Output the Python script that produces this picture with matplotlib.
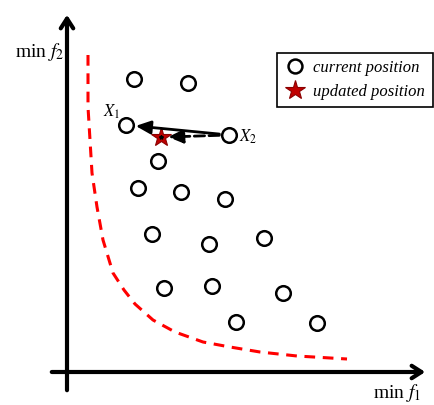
import matplotlib.pyplot as plt
from matplotlib.lines import Line2D

plt.rcParams['font.family'] = ['Liberation Serif', 'DejaVu Serif']
plt.rcParams['mathtext.fontset'] = 'stix'

# current positions (f1, f2)
pos_f1 = [67, 121, 59, 162, 91, 71, 114, 158, 85, 142, 197, 97, 145, 216, 169, 250]
pos_f2 = [293, 289, 247, 237, 211, 184, 180, 173, 138, 128, 134, 84, 86, 79, 50, 49]

# updated position
star_f1 = [94]
star_f2 = [235]

# pareto-like front
front_f1 = [21, 21, 23, 25, 30, 36, 46, 57, 68, 86, 108, 136, 163, 193, 230, 280]
front_f2 = [317, 265, 232, 199, 165, 132, 99, 82, 68, 52, 40, 30, 25, 20, 16, 13]

x1 = (59, 247)
x2 = (162, 237)

fig = plt.figure(figsize=(4.34, 4.05), dpi=100)
ax = fig.add_axes([0, 0, 1, 1])
ax.set_xlim(-67, 367)
ax.set_ylim(-33, 372)
ax.axis('off')

# axes arrows
ax.annotate('', xy=(361, 0), xytext=(-18, 0),
            arrowprops=dict(arrowstyle='->,head_length=0.7,head_width=0.45', lw=3, color='black'))
ax.annotate('', xy=(0, 360), xytext=(0, -21),
            arrowprops=dict(arrowstyle='->,head_length=0.7,head_width=0.45', lw=3, color='black'))
ax.text(-27, 320, r'min $f_2$', fontsize=14, ha='center', va='center')
ax.text(330, -21, r'min $f_1$', fontsize=14, ha='center', va='center')

ax.plot(front_f1, front_f2, color='red', ls=(0, (3.5, 2.5)), lw=2.2)

# movement arrows
ax.annotate('', xy=x1, xytext=x2,
            arrowprops=dict(arrowstyle='-|>,head_length=0.9,head_width=0.4', lw=2,
                            color='black', shrinkA=7, shrinkB=7))
ax.annotate('', xy=(star_f1[0] + 7, star_f2[0]), xytext=x2,
            arrowprops=dict(arrowstyle='-|>,head_length=0.9,head_width=0.4', lw=2,
                            color='black', ls='--', shrinkA=7, shrinkB=0))

ax.plot(pos_f1, pos_f2, 'o', ms=10.5, mfc='white', mec='black', mew=1.8, ls='none')
ax.plot(star_f1, star_f2, '*', ms=15, mfc='#c00000', mec='#8b0000', mew=0.8, ls='none')
ax.plot(star_f1, star_f2, '*', ms=3, color='black', ls='none')

ax.text(x1[0] - 14, x1[1] + 13, r'$X_1$', fontsize=12, ha='center', va='center')
ax.text(x2[0] + 19, x2[1] - 2, r'$X_2$', fontsize=12, ha='center', va='center')

handles = [
    Line2D([], [], marker='o', ms=10, mfc='white', mec='black', mew=1.8, ls='none'),
    Line2D([], [], marker='*', ms=15, mfc='#c00000', mec='#8b0000', mew=0.8, ls='none'),
]
leg = ax.legend(handles, ['current position', 'updated position'],
                loc='upper right', bbox_to_anchor=(0.997, 0.87),
                prop={'style': 'italic', 'size': 12}, fancybox=False,
                edgecolor='black', framealpha=1, handletextpad=0.5,
                borderpad=0.45, labelspacing=0.45, handlelength=1.2, borderaxespad=0)
leg.get_frame().set_linewidth(1.2)

fig.savefig('out.png', dpi=100)
